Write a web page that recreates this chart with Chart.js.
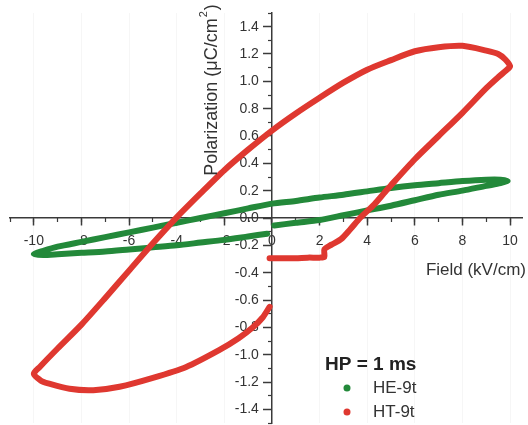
<!DOCTYPE html>
<html>
<head>
<meta charset="utf-8">
<title>P-E loops</title>
<script src="https://cdn.jsdelivr.net/npm/chart.js@4"></script>
<style>
  body { margin: 0; background: #fff; }
  canvas { display: block; }
</style>
</head>
<body>
<canvas id="myChart" width="528" height="425"></canvas>
<script>
'use strict';

// legend / series names
var seriesNames = ['HE-9t', 'HT-9t'];
var legendTitle = 'HP = 1 ms';

// HE-9t loop, in the order it was traced (start at 0, go to +10, back to -10, return)
var heField = [0.1, 1, 2, 3, 4, 5, 6, 7, 8, 9, 9.6, 9.9,
               9.6, 9, 8, 7, 6, 5, 4, 3, 2, 1, 0, -1, -2, -3, -4, -5, -6, -7, -8, -9, -9.6, -10,
               -9.6, -9, -8, -7, -6, -5, -4, -3, -2, -1, -0.2];
var hePol = [-0.055, -0.035, -0.015, 0.02, 0.055, 0.09, 0.13, 0.17, 0.2, 0.235, 0.255, 0.27,
             0.28, 0.28, 0.27, 0.255, 0.24, 0.22, 0.195, 0.17, 0.15, 0.125, 0.105, 0.07, 0.035, 0.0, -0.035, -0.07, -0.105, -0.14, -0.175, -0.21, -0.24, -0.265,
             -0.27, -0.265, -0.255, -0.245, -0.23, -0.215, -0.2, -0.18, -0.16, -0.135, -0.115];

// HT-9t loop
var htField = [-0.1, 0.5, 1, 1.5, 2, 2.2, 2.2, 2.5, 2.9, 3.3, 3.7, 4.3, 4.7, 5, 6, 7, 8, 9, 9.5, 9.9,
               10, 9.8, 9.5, 9, 8, 7, 6, 5, 4, 3, 2, 1, 0, -1, -2, -3, -4, -5, -6, -7, -8, -9, -9.75, -10,
               -9.7, -9.4, -8.5, -7.5, -6.4, -5, -3.6, -2.2, -1.4, -0.8, -0.4, -0.1];
var htPol = [-0.295, -0.295, -0.295, -0.29, -0.29, -0.285, -0.23, -0.195, -0.155, -0.08, 0, 0.1, 0.18, 0.24, 0.43, 0.6, 0.77, 0.95, 1.03, 1.09,
             1.11, 1.16, 1.2, 1.225, 1.26, 1.25, 1.22, 1.155, 1.085, 0.99, 0.88, 0.765, 0.64, 0.5, 0.35, 0.18, 0.005, -0.185, -0.385, -0.585, -0.78, -0.955, -1.09, -1.14,
             -1.19, -1.21, -1.25, -1.26, -1.235, -1.17, -1.09, -0.965, -0.88, -0.8, -0.73, -0.65];

// tick positions
var xMajor = [-10, -8, -6, -4, -2, 0, 2, 4, 6, 8, 10];
var xMinor = [-11, -10, -9, -8, -7, -6, -5, -4, -3, -2, -1, 0, 1, 2, 3, 4, 5, 6, 7, 8, 9, 10];
var yMajor = [-1.4, -1.2, -1.0, -0.8, -0.6, -0.4, -0.2, 0, 0.2, 0.4, 0.6, 0.8, 1.0, 1.2, 1.4];
var yMinor = [-1.5, -1.3, -1.1, -0.9, -0.7, -0.5, -0.3, -0.1, 0.1, 0.3, 0.5, 0.7, 0.9, 1.1, 1.3, 1.5];

var xTitle = 'Field (kV/cm)';
var yTitle = ['Polarization (\u03bcC/cm', '2', ')'];

var green = '#23893a';
var red = '#df3830';
var axisColor = '#3a3a3a';
var FONT = '"Liberation Sans", Arial, sans-serif';

function toPoints(xs, ys) {
   return xs.map(function (v, i) { return {x: v, y: ys[i]}; });
}

// axes sit on the zero lines and take no room in the layout
function noSpaceX(s) { s.height = 0; s.paddingLeft = 0; s.paddingRight = 0; }
function noSpaceY(s) { s.width = 0; s.paddingTop = 0; s.paddingBottom = 0; }
function setTicks(list) {
   return function (s) { s.ticks = list.map(function (v) { return {value: v}; }); };
}

// titles + legend drawn on top
var extras = {
   id: 'extras',
   afterDraw: function (chart) {
      var ctx = chart.ctx;
      var ds = chart.data.datasets;
      ctx.save();
      ctx.fillStyle = '#333';

      // x title
      ctx.font = '17px ' + FONT;
      ctx.textAlign = 'right';
      ctx.textBaseline = 'middle';
      ctx.fillText(xTitle, 526, 270);

      // y title, rotated, with superscript
      ctx.save();
      ctx.translate(212, 90);
      ctx.rotate(-Math.PI / 2);
      ctx.font = '18px ' + FONT;
      var w0 = ctx.measureText(yTitle[0]).width;
      ctx.font = '11px ' + FONT;
      var w1 = ctx.measureText(yTitle[1]).width;
      ctx.font = '18px ' + FONT;
      var w2 = ctx.measureText(yTitle[2]).width;
      var start = -(w0 + w1 + w2 + 2) / 2;
      ctx.textAlign = 'left';
      ctx.fillText(yTitle[0], start, 0);
      ctx.font = '11px ' + FONT;
      ctx.fillText(yTitle[1], start + w0 + 1, -8);
      ctx.font = '18px ' + FONT;
      ctx.fillText(yTitle[2], start + w0 + w1 + 2, 0);
      ctx.restore();

      // legend
      ctx.textAlign = 'left';
      ctx.font = 'bold 19px ' + FONT;
      ctx.fillStyle = '#222';
      ctx.fillText(legendTitle, 325, 365);
      ctx.font = '17px ' + FONT;
      for (var i = 0; i < ds.length; i++) {
         var ly = 388 + i * 24;
         ctx.fillStyle = ds[i].borderColor;
         ctx.beginPath();
         ctx.arc(347, ly, 3.5, 0, Math.PI * 2);
         ctx.fill();
         ctx.fillStyle = '#333';
         ctx.fillText(ds[i].label, 373, ly);
      }
      ctx.restore();
   }
};

var ctx = document.getElementById('myChart').getContext('2d');
var myChart = new Chart(ctx, {
   type: 'scatter',
   data: {
      datasets: [{
         label: seriesNames[0],
         data: toPoints(heField, hePol),
         borderColor: green,
         backgroundColor: green,
         borderWidth: 6,
         showLine: true,
         pointRadius: 0,
         tension: 0.25,
         borderCapStyle: 'round',
         borderJoinStyle: 'round',
         order: 1
      }, {
         label: seriesNames[1],
         data: toPoints(htField, htPol),
         borderColor: red,
         backgroundColor: red,
         borderWidth: 6,
         showLine: true,
         pointRadius: 0,
         tension: 0.25,
         borderCapStyle: 'round',
         borderJoinStyle: 'round',
         order: 0
      }]
   },
   options: {
      responsive: false,
      animation: false,
      layout: { padding: {left: 10, right: 6, top: 13, bottom: 2} },
      plugins: { legend: { display: false }, tooltip: { enabled: false } },
      scales: {
         x: {
            type: 'linear', min: -11, max: 10.5,
            position: {y: 0},
            afterBuildTicks: setTicks(xMajor),
            afterFit: noSpaceX,
            border: { display: true, color: axisColor, width: 1.5 },
            grid: { drawOnChartArea: true, color: 'rgba(0,0,0,0.035)', tickColor: axisColor, tickLength: 7, tickWidth: 1.5 },
            ticks: { color: '#333', font: {family: FONT, size: 14}, padding: 8, maxRotation: 0, autoSkip: false }
         },
         x2: {
            type: 'linear', axis: 'x', min: -11, max: 10.5,
            position: {y: 0},
            afterBuildTicks: setTicks(xMinor),
            afterFit: noSpaceX,
            border: { display: false },
            grid: { drawOnChartArea: false, tickColor: axisColor, tickLength: 4, tickWidth: 1.2 },
            ticks: { display: false }
         },
         y: {
            type: 'linear', min: -1.5, max: 1.5,
            position: {x: 0},
            afterBuildTicks: setTicks(yMajor),
            afterFit: noSpaceY,
            border: { display: true, color: axisColor, width: 1.5 },
            grid: { drawOnChartArea: false, tickColor: axisColor, tickLength: 8, tickWidth: 1.5 },
            ticks: { display: false }
         },
         y2: {
            type: 'linear', axis: 'y', min: -1.5, max: 1.5,
            position: {x: 0},
            afterBuildTicks: setTicks(yMinor),
            afterFit: noSpaceY,
            border: { display: false },
            grid: { drawOnChartArea: false, tickColor: axisColor, tickLength: 4, tickWidth: 1.2 },
            ticks: { display: false }
         },
         // labels of the y axis, set just left of the tick marks
         yLabels: {
            type: 'linear', axis: 'y', min: -1.5, max: 1.5,
            position: {x: -0.55},
            afterBuildTicks: setTicks(yMajor),
            afterFit: noSpaceY,
            border: { display: false },
            grid: { display: false, drawTicks: false },
            ticks: {
               color: '#333', font: {family: FONT, size: 14}, padding: 0, autoSkip: false,
               callback: function (v) { return v.toFixed(1); }
            }
         }
      }
   },
   plugins: [extras]
});
</script>
</body>
</html>
